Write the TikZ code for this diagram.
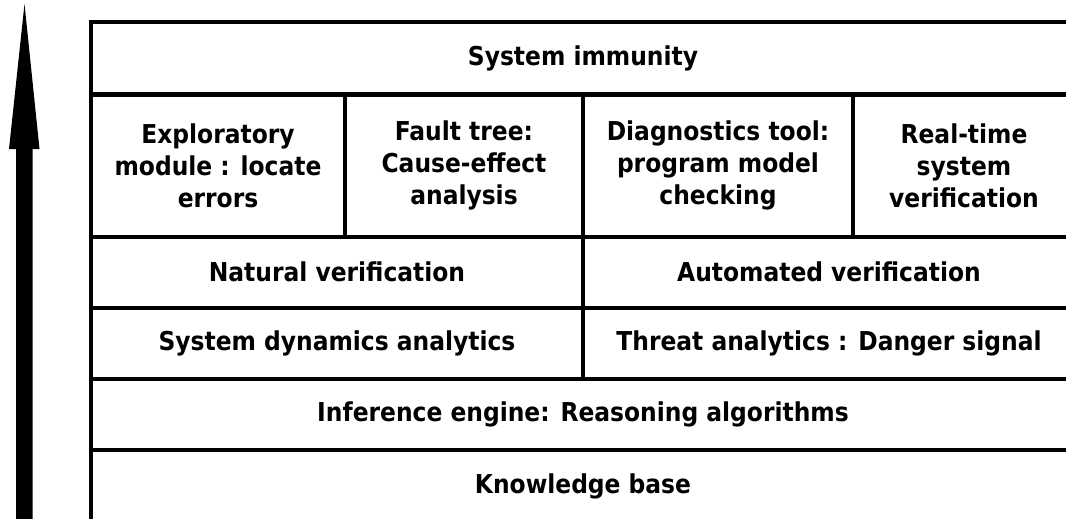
\documentclass[tikz,border=0pt]{standalone}
\usepackage{fontspec}
\setmainfont{DejaVu Sans Condensed}

\begin{document}
\begin{tikzpicture}
  [x=1pt,y=-1pt,every node/.style={draw=black,line width=4pt,align=center,inner sep=0pt,
   font=\fontsize{26}{32}\selectfont\bfseries},
   cell/.style 2 args={minimum width=#1,minimum height=#2}]
\useasboundingbox (0,0) rectangle (1066,519);
  % Capas de la arquitectura, de arriba abajo
  \node[cell={984pt}{72pt}] (immunity) at (583,58.5) {System immunity};

  \node[cell={254pt}{142pt}] (explore) at (218,165.5) {Exploratory\\module : locate\\errors};
  \node[cell={238pt}{142pt}] (fault)   at (464,165.5) {Fault tree:\\Cause-effect\\analysis};
  \node[cell={270pt}{142pt}] (diag)    at (718,165.5) {Diagnostics tool:\\program model\\checking};
  \node[cell={222pt}{142pt}] (realtime) at (964,165.5) {Real-time\\system\\verification};

  \node[cell={492pt}{71.5pt}] (natural) at (337,272.25) {Natural verification};
  \node[cell={492pt}{71.5pt}] (auto)    at (829,272.25) {Automated verification};

  \node[cell={492pt}{71pt}] (dynamics) at (337,343.5) {System dynamics analytics};
  \node[cell={492pt}{71pt}] (threat)   at (829,343.5) {Threat analytics : Danger signal};

  \node[cell={984pt}{71pt}] (inference) at (583,414.5) {Inference engine: Reasoning algorithms};
  \node[cell={984pt}{72pt}] (knowledge) at (583,486) {Knowledge base};

  % Flecha vertical a la izquierda (cuerpo y punta rellenos)
  \coordinate (foot) at (24.5,530);
  \coordinate (tip)  at (24.5,4);
  \fill (foot) ++(-8.5,0) -- ++(0,-381) -- ++(-7,0) -- (tip)
        -- ++(15,145) -- ++(-7,0) -- ++(0,381) -- cycle;
\end{tikzpicture}
\end{document}
